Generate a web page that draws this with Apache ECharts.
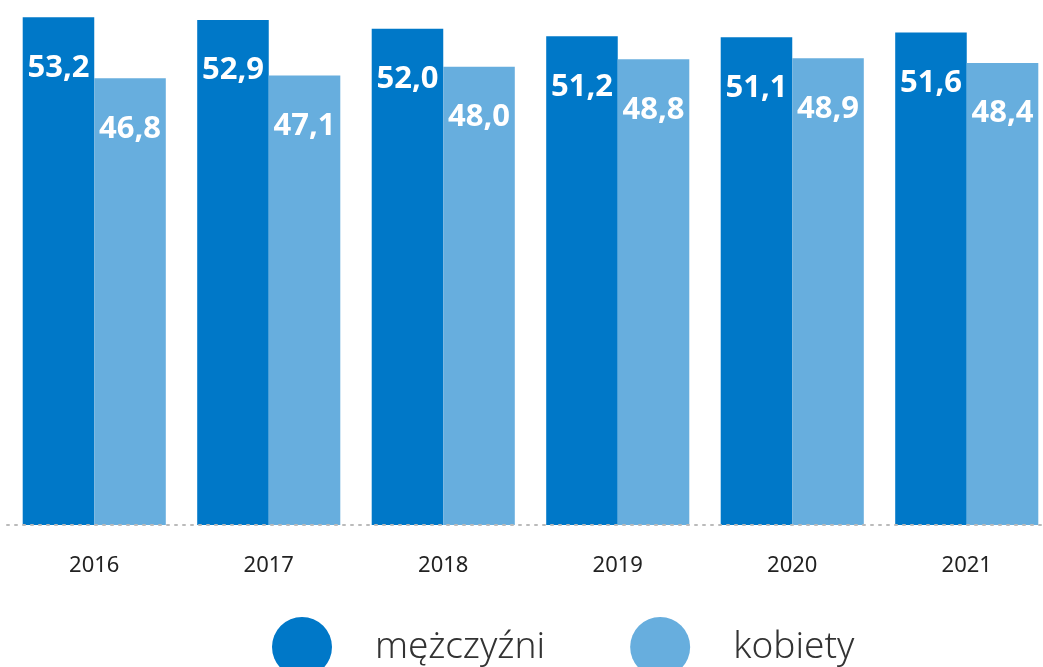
<!DOCTYPE html>
<html>
<head>
<meta charset="utf-8">
<script src="https://cdn.jsdelivr.net/npm/echarts@6/dist/echarts.min.js"></script>
<style>
  html, body { margin: 0; padding: 0; background: #fff; overflow: hidden; }
  #chart { width: 1054px; height: 667px; }
</style>
</head>
<body>
<div id="chart"></div>
<script>
const years = ['2016', '2017', '2018', '2019', '2020', '2021'];
const men = [53.2, 52.9, 52.0, 51.2, 51.1, 51.6];
const women = [46.8, 47.1, 48.0, 48.8, 48.9, 48.4];

const chart = echarts.init(document.getElementById('chart'));

const label = {
    show: true,
    position: 'insideTop',
    distance: 35,
    color: '#fff',
    fontFamily: 'Noto Sans',
    fontWeight: 'bold',
    fontSize: 31,
    formatter: (p) => p.value.toFixed(1).replace('.', ','),
};

chart.setOption({
    animation: false,
    // the plot runs a little past the right edge of the picture
    grid: { left: 7, top: 0, right: 0, bottom: 142 },
    legend: {
        left: 267,
        top: 612,
        itemWidth: 60,
        itemHeight: 60,
        itemGap: 85,
        icon: 'circle',
        textStyle: {
            fontFamily: 'Noto Sans',
            fontSize: 37,
            fontWeight: 300,
            color: '#333',
            padding: [0, 0, 0, 38],
        },
        data: ['mężczyźni', 'kobiety'],
    },
    xAxis: {
        type: 'category',
        data: years,
        z: 5,
        axisTick: { show: false },
        axisLine: { lineStyle: { color: '#bbb', type: [2, 6], width: 2 } },
        axisLabel: {
            margin: 30,
            fontFamily: 'Noto Sans',
            fontSize: 22,
            color: '#222',
        },
    },
    yAxis: {
        type: 'value',
        min: 0,
        max: 55,
        show: false,
        splitLine: { show: false },
    },
    series: [
        { name: 'mężczyźni', data: men, color: '#0078C8' },
        { name: 'kobiety', data: women, color: '#67AEDE' },
    ].map((s) => ({
        ...s,
        type: 'bar',
        barGap: '0%',
        barCategoryGap: '18%',
        label,
    })),
});
</script>
</body>
</html>
